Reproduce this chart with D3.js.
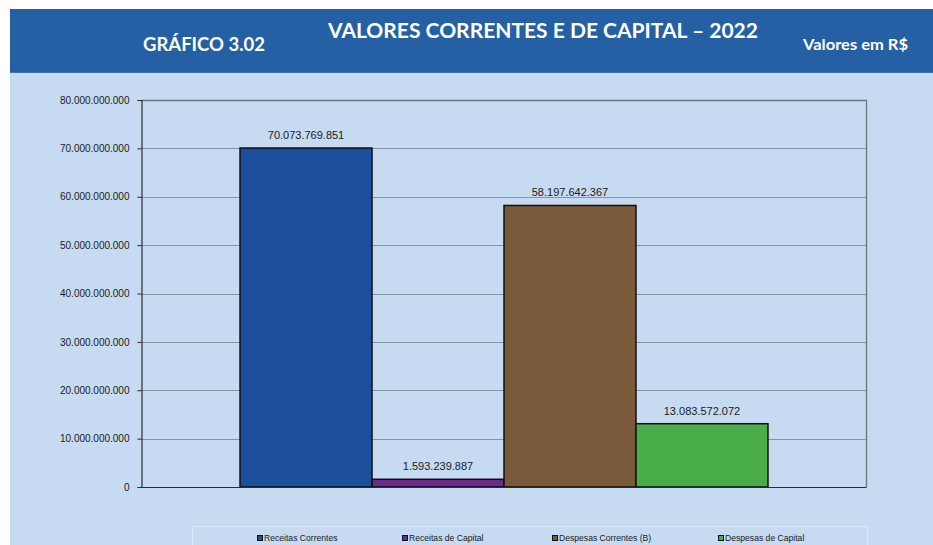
<!DOCTYPE html>
<html>
<meta charset="utf-8">
<head>
<title>Gráfico 3.02</title>
<script src="https://cdn.jsdelivr.net/npm/d3@7"></script>
<style>
body { margin: 0; background: #fff; }
svg { display: block; }
.axis text { font: 10px "Liberation Sans", Arial, sans-serif; fill: #1a1a1a; }
</style>
</head>
<body>
<div id="grafico"></div>
<script>
// datos
var categoria = ["2022"];
var series = ["Receitas Correntes", "Receitas de Capital", "Despesas Correntes (B)", "Despesas de Capital"];
var valores = [70073769851, 1593239887, 58197642367, 13083572072];
var colores = ["#1d4f9f", "#6a2b8b", "#7a5a3a", "#4aae48"];
var ticksY = [0, 10e9, 20e9, 30e9, 40e9, 50e9, 60e9, 70e9, 80e9];

var W = 933, H = 545;
var margin = {top: 100, right: 66.5, bottom: 58, left: 141.5},
    width = W - margin.left - margin.right,
    height = H - margin.top - margin.bottom;

// formato 70.073.769.851
var fmt = function(v) { return d3.format(",")(v).replace(/,/g, "."); };

var svg = d3.select("#grafico").append("svg")
    .attr("width", W)
    .attr("height", H);

// fondo claro y banda del titulo
svg.append("rect").attr("x", 10).attr("y", 73).attr("width", W - 10).attr("height", H - 73).attr("fill", "#c6daf1");
svg.append("rect").attr("x", 10).attr("y", 9).attr("width", W - 10).attr("height", 64).attr("fill", "#2660a4");
svg.append("line").attr("x1", 10).attr("x2", W).attr("y1", 72.5).attr("y2", 72.5).attr("stroke", "#3d74b6");

var head = svg.append("g")
    .style("font-family", "Lato, 'Open Sans', sans-serif")
    .style("font-weight", "bold")
    .attr("fill", "#fff");
head.append("text").attr("x", 328).attr("y", 38).style("font-size", "20px")
    .attr("textLength", 430).attr("lengthAdjust", "spacingAndGlyphs")
    .text("VALORES CORRENTES E DE CAPITAL – 2022");
head.append("text").attr("x", 143).attr("y", 51).style("font-size", "18px")
    .attr("textLength", 122).attr("lengthAdjust", "spacingAndGlyphs")
    .text("GRÁFICO 3.02");
head.append("text").attr("x", 803).attr("y", 50).style("font-size", "16px")
    .attr("textLength", 105).attr("lengthAdjust", "spacingAndGlyphs")
    .text("Valores em R$");

var g = svg.append("g")
    .attr("transform", "translate(" + margin.left + "," + margin.top + ")");

var x0 = d3.scaleBand()
    .domain(categoria)
    .range([0, width])
    .paddingInner(0)
    .paddingOuter(0.1866);

var x1 = d3.scaleBand()
    .domain(series)
    .range([0, x0.bandwidth()]);

var y = d3.scaleLinear()
    .domain([0, 80e9])
    .range([height, 0]);

// grilla
g.append("g").selectAll("line")
    .data(ticksY.slice(1, -1))
  .enter().append("line")
    .attr("x1", 0).attr("x2", width)
    .attr("y1", function(d) { return Math.round(y(d)) + 0.5; })
    .attr("y2", function(d) { return Math.round(y(d)) + 0.5; })
    .attr("stroke", "#8793a0");

// borde superior y derecho
g.append("path")
    .attr("d", "M0,0.5H" + width + "V" + height)
    .attr("fill", "none")
    .attr("stroke", "#6b7680")
    .attr("stroke-width", 1.3);

var yAxis = d3.axisLeft(y)
    .tickValues(ticksY)
    .tickSize(4)
    .tickPadding(8)
    .tickFormat(fmt);

g.append("g")
    .attr("class", "axis")
    .call(yAxis)
    .call(function(a) {
        a.select(".domain").attr("stroke", "#2b2b2b").attr("stroke-width", 1.2);
        a.selectAll(".tick line").attr("stroke", "#2b2b2b");
    });

// barras
var barras = g.append("g")
    .attr("transform", "translate(" + x0(categoria[0]) + ",0)");

barras.selectAll("rect")
    .data(valores)
  .enter().append("rect")
    .attr("x", function(d, i) { return x1(series[i]); })
    .attr("y", function(d) { return y(d); })
    .attr("width", x1.bandwidth())
    .attr("height", function(d) { return height - y(d); })
    .attr("fill", function(d, i) { return colores[i]; })
    .attr("stroke", "#111")
    .attr("stroke-width", 1.5);

barras.selectAll("text")
    .data(valores)
  .enter().append("text")
    .attr("x", function(d, i) { return x1(series[i]) + x1.bandwidth() / 2; })
    .attr("y", function(d) { return y(d) - 9; })
    .attr("text-anchor", "middle")
    .style("font", "11px 'Liberation Sans', Arial, sans-serif")
    .attr("fill", "#1a1a1a")
    .text(fmt);

// eje inferior
g.append("line")
    .attr("x1", 0).attr("x2", width)
    .attr("y1", height + 0.5).attr("y2", height + 0.5)
    .attr("stroke", "#2b2b2b").attr("stroke-width", 1.2);

// leyenda
var legendX = [257, 402, 552, 718];
svg.append("rect")
    .attr("x", 192.5).attr("y", 526.5).attr("width", 675).attr("height", 40)
    .attr("fill", "none").attr("stroke", "#dbe7f5");

var item = svg.selectAll(".leg")
    .data(series)
  .enter().append("g")
    .attr("class", "leg")
    .attr("transform", function(d, i) { return "translate(" + legendX[i] + ",535)"; });

item.append("rect")
    .attr("x", 0.5).attr("y", 0.5).attr("width", 5).attr("height", 5)
    .attr("fill", function(d, i) { return colores[i]; })
    .attr("stroke", "#111");

item.append("text")
    .attr("x", 7).attr("y", 5.5)
    .style("font", "8.6px 'Liberation Sans', Arial, sans-serif")
    .attr("fill", "#1a1a1a")
    .text(function(d) { return d; });
</script>
</body>
</html>
